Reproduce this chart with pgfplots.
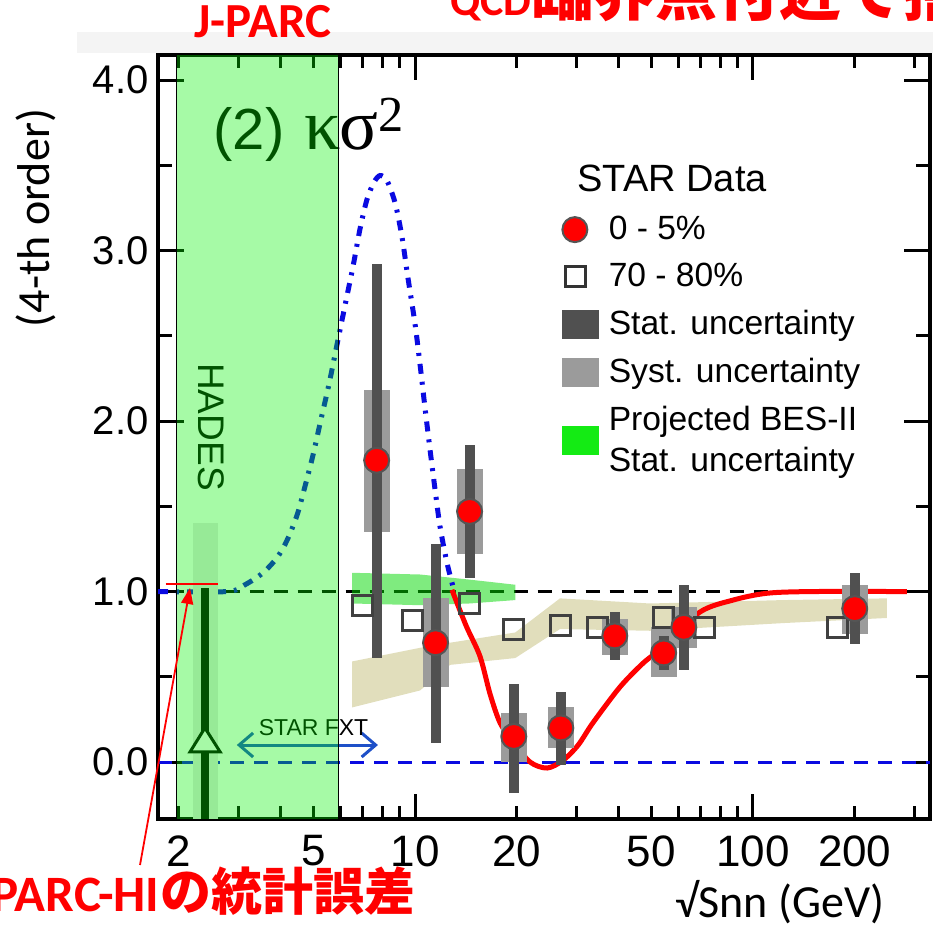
\documentclass[border=0pt]{standalone}
\usepackage{fontspec}
\setmainfont{Liberation Sans}
\newfontfamily\carlito{Carlito}
\newfontfamily\serifgr{Liberation Serif}
\newfontfamily\jp{Noto Sans CJK JP}
\usepackage{pgfplots}
\pgfplotsset{compat=1.18}
\usepackage{pgfplotstable}
\usetikzlibrary{arrows.meta}
\pgfkeys{/pgf/number format/assume math mode=true}

\definecolor{statgray}{RGB}{80,80,80}
\definecolor{systgray}{RGB}{155,155,155}
\definecolor{markedge}{RGB}{85,85,85}
\definecolor{tanband}{RGB}{225,222,188}
\definecolor{besgreen}{RGB}{0,215,0}
\definecolor{legendgreen}{RGB}{20,235,20}
\definecolor{curveblue}{RGB}{10,10,225}
\definecolor{fxtblue}{RGB}{30,80,200}
\definecolor{topgray}{RGB}{244,244,244}
\definecolor{jparcgreen}{RGB}{0,240,0}

% 0-5% central: x, y, stat minus/plus, syst minus/plus
\pgfplotstableread{
x y sm sp ym yp
7.7 1.77 1.16 1.15 0.42 0.41
11.5 0.70 0.59 0.58 0.26 0.26
14.5 1.47 0.39 0.39 0.25 0.25
19.6 0.15 0.33 0.31 0.15 0.14
27 0.20 0.22 0.21 0.12 0.12
39 0.74 0.14 0.14 0.11 0.10
54.4 0.64 0.10 0.10 0.14 0.15
62.4 0.79 0.25 0.25 0.12 0.12
200 0.90 0.21 0.21 0.15 0.14
}\central

% 70-80% peripheral
\pgfplotstableread{
x y
6.97 0.92
9.86 0.83
14.5 0.93
19.6 0.78
27 0.80
34.6 0.79
54.2 0.85
72.1 0.79
178 0.79
}\periph

% model curve (blue dash-dot)
\pgfplotstableread{
x y
1.736 1.00
2.78 1.00
3.14 1.04
3.55 1.11
3.91 1.20
4.18 1.30
4.48 1.45
4.73 1.62
4.99 1.80
5.27 2.01
5.57 2.22
5.88 2.45
6.21 2.68
6.56 2.91
6.88 3.13
7.21 3.30
7.56 3.40
7.88 3.44
8.26 3.41
8.73 3.28
9.15 3.08
9.53 2.84
10.0 2.57
10.35 2.33
10.7 2.08
11.08 1.83
11.46 1.60
11.86 1.38
12.43 1.17
12.95 1.03
}\bluecurve

% model curve (red)
\pgfplotstableread{
x y
12.86 1.01
14.16 0.80
15.57 0.62
16.67 0.40
17.85 0.23
19.5 0.12
21.9 0.00
24.6 -0.035
27.4 0.01
30.4 0.10
33.6 0.23
40.4 0.44
47.3 0.58
54.2 0.675
69.7 0.88
87.3 0.95
110 0.99
150 1.00
285.5 1.00
}\redcurve

\begin{document}
\begin{tikzpicture}
\begin{scope}[x=0.5pt,y=-0.5pt,yshift=464pt]
\fill[topgray] (77,32) rectangle (933,53);
\end{scope}

\begin{axis}[
  at={(79pt,54.5pt)}, anchor=south west,
  scale only axis, width=386pt, height=382pt,
  xmode=log,
  xmin=1.736, xmax=334, ymin=-0.334, ymax=4.147,
  axis line style={line width=2pt},
  major tick length=0pt, minor tick length=0pt,
  xtick={2,5,10,20,50,100,200}, xticklabels={2,5,10,20,50,100,200},
  ytick={0,1,2,3,4},
  yticklabel={\pgfmathprintnumber[fixed,fixed zerofill,precision=1]{\tick}},
  xticklabel style={font=\fontsize{22}{22}\selectfont, inner sep=0pt, yshift=-8pt},
  yticklabel style={font=\fontsize{20}{20}\selectfont, inner sep=0pt, xshift=-4.5pt},
  legend cell align=left,
  legend style={draw=none, fill=none, at={(0.522,0.7945)}, anchor=north west,
    inner xsep=0pt, inner ysep=0pt, row sep=6.3pt, column sep=3pt,
    font=\fontsize{16.8}{20.5}\selectfont},
  tickseg/.style={forget plot, black, line width=1.5pt},
]
% tick marks drawn inward on all four sides
\pgfplotsinvokeforeach{10,100}{
  \addplot[tickseg] coordinates {(#1,-0.334) (#1,-0.190)};
  \addplot[tickseg] coordinates {(#1,4.147) (#1,4.003)};
}
\pgfplotsinvokeforeach{2,3,4,5,6,7,8,9,20,30,40,50,60,70,80,90,200,300}{
  \addplot[tickseg] coordinates {(#1,-0.334) (#1,-0.260)};
  \addplot[tickseg] coordinates {(#1,4.147) (#1,4.073)};
}
\pgfplotsinvokeforeach{0,1,2,3,4}{
  \addplot[tickseg] coordinates {(1.736,#1) (2.07,#1)};
  \addplot[tickseg] coordinates {(334,#1) (280,#1)};
}
\pgfplotsinvokeforeach{0.5,1.5,2.5,3.5}{
  \addplot[tickseg] coordinates {(1.736,#1) (1.91,#1)};
  \addplot[tickseg] coordinates {(334,#1) (304,#1)};
}
% tan band
\addplot[forget plot, fill=tanband, draw=none] coordinates {
 (6.51,0.59) (10.35,0.67) (12.7,0.70) (19.8,0.76) (26.85,0.96) (49.6,0.93) (122.7,0.95) (249,0.96)
 (249,0.845) (122.7,0.815) (49.6,0.77) (26.85,0.78) (19.8,0.61) (12.7,0.57) (10.35,0.42) (6.51,0.32)} -- cycle;
% reference lines
\addplot[forget plot, black, line width=1.5pt, dash pattern=on 7pt off 5pt] coordinates {(2.75,1) (200,1)};
\addplot[forget plot, curveblue, line width=1.5pt, dash pattern=on 7pt off 5pt] coordinates {(1.736,0) (334,0)};
% projected BES-II band
\addplot[forget plot, fill=besgreen, fill opacity=0.5, draw=none] coordinates {
 (6.51,1.11) (10.35,1.10) (14.5,1.07) (19.8,1.04) (19.8,0.95) (14.5,0.93) (10.35,0.92) (6.51,0.93)} -- cycle;
% model curves
\addplot[forget plot, curveblue, line width=2.5pt, dash pattern=on 5pt off 4pt on 1.5pt off 4pt, smooth] table[x=x,y=y]{\bluecurve};
\addplot[forget plot, red, line width=2.5pt, smooth] table[x=x,y=y]{\redcurve};
% HADES
\addplot[forget plot, fill=gray!18, draw=none] coordinates {(2.20,-0.334) (2.61,-0.334) (2.61,1.40) (2.20,1.40)} -- cycle;
\addplot[forget plot, black, line width=4pt] coordinates {(2.39,1.02) (2.39,-0.334)};
\addplot[forget plot, fill=white, draw=black, line width=1.5pt, line join=miter] coordinates {(2.16,0.06) (2.39,0.20) (2.65,0.06)} -- cycle;
% STAR FXT arrow
\addplot[forget plot, fxtblue, line width=1.5pt, arrows={Straight Barb[length=7pt,width=12pt]-Straight Barb[length=7pt,width=12pt]}] coordinates {(2.97,0.10) (7.77,0.10)};
% 70-80%
\addplot[forget plot, only marks, mark=square, mark size=5pt, mark options={draw=black!75, line width=1.5pt}] table[x=x,y=y]{\periph};
% 0-5% syst, stat, points
\addplot[forget plot, only marks, mark=none, error bars/.cd, y dir=both, y explicit, error mark=none,
  error bar style={line width=13pt, systgray}] table[x=x, y=y, y error minus=ym, y error plus=yp]{\central};
\addplot[forget plot, only marks, mark=none, error bars/.cd, y dir=both, y explicit, error mark=none,
  error bar style={line width=5pt, statgray}] table[x=x, y=y, y error minus=sm, y error plus=sp]{\central};
\addplot[forget plot, only marks, mark=*, mark size=6.25pt, mark options={fill=red, draw=markedge, line width=1pt}] table[x=x,y=y]{\central};
% labels inside the plot
\node[anchor=base west, inner sep=0pt, font=\fontsize{29}{29}\selectfont] at (axis cs:2.527,3.59) {(2)\hspace{0.35em}{\serifgr\fontsize{36}{36}\selectfont κσ\textsuperscript{2}}};
\node[rotate=-90, inner sep=0pt, font=\fontsize{18.5}{18.5}\selectfont] at (axis cs:2.49,1.965) {HADES};
\node[anchor=base, inner sep=0pt, font=\fontsize{11.5}{11.5}\selectfont] at (axis cs:5.01,0.158) {STAR FXT};
% J-PARC energy range overlay
\addplot[forget plot, fill=jparcgreen, fill opacity=0.35, draw=black, line width=0.5pt] coordinates {(1.963,-0.334) (5.92,-0.334) (5.92,4.147) (1.963,4.147)} -- cycle;
% J-PARC-HI statistical error marker
\addplot[forget plot, red, line width=1pt] coordinates {(1.83,1.044) (2.61,1.044)};
% legend
\addlegendimage{legend image code/.code={\draw[fill=red, draw=markedge, line width=1pt] (6.25pt,0pt) circle (6.25pt);}}
\addlegendentry{0 - 5\%}
\addlegendimage{legend image code/.code={\draw[draw=black!80, line width=1.5pt] (1.5pt,-5pt) rectangle (11.5pt,5pt);}}
\addlegendentry{70 - 80\%}
\addlegendimage{legend image code/.code={\fill[statgray] (0pt,-7pt) rectangle (18pt,7pt);}}
\addlegendentry{Stat. uncertainty}
\addlegendimage{legend image code/.code={\fill[systgray] (0pt,-7pt) rectangle (18pt,7pt);}}
\addlegendentry{Syst. uncertainty}
\addlegendimage{legend image code/.code={\fill[legendgreen] (0pt,-7pt) rectangle (18pt,7pt); \path (0pt,-27.5pt);}}
\addlegendentry[align=left]{Projected BES-II\\Stat. uncertainty}
\end{axis}

\begin{scope}[x=0.5pt,y=-0.5pt,yshift=464pt]
\node[anchor=base west, inner sep=0pt, font=\fontsize{19}{19}\selectfont] at (577,192) {STAR Data};
\node[anchor=base, inner sep=0pt, text=red, font=\carlito\bfseries\fontsize{24.5}{24.5}\selectfont] at (263,38) {J-PARC};
\node[anchor=base west, inner sep=0pt, text=red] at (450,16) {\carlito\bfseries\fontsize{22}{22}\selectfont QCD\jp\bfseries\fontsize{31}{31}\selectfont 臨界点付近で揺らぎ増大};
\node[rotate=90, inner sep=0pt, font=\carlito\fontsize{23}{23}\selectfont] at (36,218) {(4-th order)};
\node[inner sep=0pt, font=\carlito\fontsize{23}{23}\selectfont] at (780,902) {√Snn (GeV)};
\node[anchor=base east, inner sep=0pt, text=red, font=\carlito\bfseries\fontsize{25.5}{25.5}\selectfont] at (160,912) {J-PARC-HI};
\node[anchor=base west, inner sep=0pt, text=red, font=\jp\bfseries\fontsize{25.5}{25.5}\selectfont] at (160,910) {の統計誤差};
\draw[red, line width=0.9pt, -{Triangle[length=8pt,width=6pt]}] (140,865) -- (190,588);
\end{scope}

\pgfresetboundingbox
\path[use as bounding box] (0pt,0pt) rectangle (466.5pt,464pt);
\end{tikzpicture}
\end{document}
